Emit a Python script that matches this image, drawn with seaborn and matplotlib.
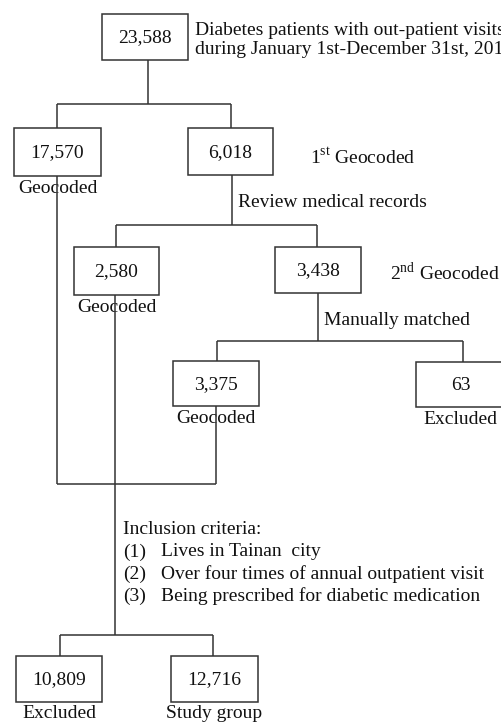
import matplotlib
matplotlib.use("Agg")
import matplotlib.pyplot as plt
import seaborn as sns

# patient counts in each box of the flow chart
counts = [23588, 17570, 6018, 2580, 3438, 3375, 63, 10809, 12716]
under = ["", "Geocoded", "", "Geocoded", "", "Geocoded", "Excluded", "Excluded", "Study group"]
side_notes = ["Diabetes patients with out-patient visits\nduring January 1st-December 31st, 2014",
              "1$^{\\rm st}$ Geocoded", "Review medical records",
              "2$^{\\rm nd}$ Geocoded", "Manually matched"]
criteria = ["Inclusion criteria:", "(1)", "(2)", "(3)"]
criteria_txt = ["Lives in Tainan  city", "Over four times of annual outpatient visit",
                "Being prescribed for diabetic medication"]

sns.set_theme(style="white")
plt.rcParams['font.family'] = ['Liberation Serif', 'DejaVu Serif']
plt.rcParams['mathtext.fontset'] = 'custom'
plt.rcParams['mathtext.rm'] = 'Liberation Serif'

# box layout in pixel coords: left, top, right, bottom
boxes = [(102, 14, 188, 60), (14, 128, 101, 176), (188, 128, 273, 175),
         (74, 247, 159, 295), (275, 247, 361, 293), (173, 361, 259, 406),
         (416, 362, 505, 407), (16, 656, 102, 702), (171, 656, 258, 702)]

fig = plt.figure(figsize=(5.02, 7.25), dpi=100)
ax = fig.add_axes([0, 0, 1, 1])
ax.set_xlim(0, 502)
ax.set_ylim(725, 0)
ax.axis('off')

lc = '#333333'
tc = '#111111'
lw = 1.1
fs = 14

def seg(xs, ys):
    ax.plot(xs, ys, color=lc, lw=lw, solid_capstyle='butt', zorder=1)

# connectors
seg([148, 148], [60, 104]); seg([57, 231], [104, 104])
seg([57, 57], [104, 128]); seg([231, 231], [104, 128])
seg([232, 232], [175, 225]); seg([116, 317], [225, 225])
seg([116, 116], [225, 247]); seg([317, 317], [225, 247])
seg([318, 318], [293, 341]); seg([217, 463], [341, 341])
seg([217, 217], [341, 361]); seg([463, 463], [341, 362])
seg([57, 57], [176, 484]); seg([216, 216], [406, 484]); seg([57, 216], [484, 484])
seg([115, 115], [295, 635]); seg([60, 213], [635, 635])
seg([60, 60], [635, 656]); seg([213, 213], [635, 656])

for (l, t, r, b), n, u in zip(boxes, counts, under):
    ax.add_patch(plt.Rectangle((l, t), r - l, b - t, fill=True, fc='white',
                               ec=lc, lw=lw, zorder=2))
    ax.text((l + r) / 2, (t + b) / 2 + 1, f"{n:,}", ha='center', va='center',
            fontsize=fs, color=tc, zorder=3)
    if u:
        ax.text((l + r) / 2, b + 12, u, ha='center', va='center',
                fontsize=fs, color=tc, zorder=0)

# the reference cuts this note at the right edge too
ax.text(195, 40, side_notes[0], ha='left', va='center', fontsize=fs,
        color=tc, linespacing=1.15)
ax.text(310, 157, side_notes[1], ha='left', va='center', fontsize=fs, color=tc)
ax.text(238, 202, side_notes[2], ha='left', va='center', fontsize=fs, color=tc)
ax.text(390, 273, side_notes[3], ha='left', va='center', fontsize=fs, color=tc)
ax.text(324, 320, side_notes[4], ha='left', va='center', fontsize=fs, color=tc)

cy = [530, 552, 574, 596]
for y, c in zip(cy, criteria):
    ax.text(123, y, c, ha='left', va='center', fontsize=fs, color=tc)
for y, c in zip(cy[1:], criteria_txt):
    ax.text(161, y, c, ha='left', va='center', fontsize=fs, color=tc)

fig.savefig("out.png", dpi=100, facecolor='white')
